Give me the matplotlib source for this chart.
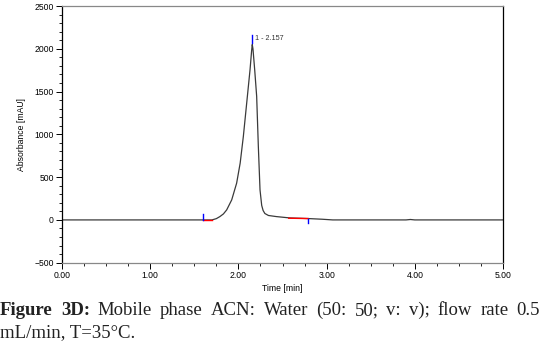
import matplotlib
matplotlib.use("Agg")
import matplotlib.pyplot as plt
from matplotlib.ticker import MultipleLocator, FormatStrFormatter

# trace (time in min, absorbance in mAU)
time = [0.00, 1.00, 1.595, 1.70, 1.75, 1.79, 1.83, 1.867, 1.924, 1.98, 2.02,
        2.056, 2.094, 2.132, 2.150, 2.157, 2.165, 2.185, 2.207, 2.226, 2.245,
        2.264, 2.28, 2.30, 2.34, 2.43, 2.585, 2.79, 2.95, 3.07, 3.50, 3.90,
        3.95, 4.00, 4.50, 5.00]
absorb = [0, 0, 0, 0, 15, 39, 70, 117, 234, 430, 664,
          976, 1366, 1757, 1980, 2050, 2000, 1750, 1444, 858, 351,
          170, 110, 75, 52, 39, 23, 16, 8, 0, 0, 0,
          5, 0, 0, 0]

peak_rt = 2.157
peak_h = 2050
start_mark = (1.595, 1.70)
end_mark = (2.57, 2.79)
end_level = 20

caption1 = ["Figure", "3D:", "Mobile", "phase", "ACN:", "Water", "(50:", "50;",
            "v:", "v);", "flow", "rate", "0.5"]
caption2 = "mL/min, T=35\u00b0C."

fig = plt.figure(figsize=(5.41, 3.62), dpi=100)
ax = fig.add_axes([0.1146, 0.2743, 0.8152, 0.7091])

ax.plot(time, absorb, color="#3a3a3a", lw=0.9)

# integration marks
ax.plot([start_mark[0], start_mark[1]], [0, 0], color="red", lw=1.0)
ax.plot([start_mark[0], start_mark[0]], [0, 75], color="blue", lw=1.0)
ax.plot([end_mark[0], end_mark[1]], [end_level, end_level - 4], color="red", lw=1.0)
ax.plot([end_mark[1], end_mark[1]], [16, -40], color="blue", lw=1.0)
ax.plot([peak_rt, peak_rt], [peak_h + 20, peak_h + 110], color="blue", lw=1.0)
ax.text(peak_rt + 0.03, peak_h + 65, "1 - 2.157", fontsize=5.2, va="center",
        family="Liberation Sans", color="#333333")

ax.set_xlim(0, 5)
ax.set_ylim(-500, 2500)
ax.xaxis.set_major_locator(MultipleLocator(1))
ax.xaxis.set_minor_locator(MultipleLocator(0.25))
ax.yaxis.set_major_locator(MultipleLocator(500))
ax.yaxis.set_minor_locator(MultipleLocator(100))
ax.xaxis.set_major_formatter(FormatStrFormatter("%.2f"))
ax.tick_params(which="major", length=4, width=0.7, labelsize=6.2, pad=2)
ax.tick_params(which="minor", length=2, width=0.6)
for lab in ax.get_xticklabels() + ax.get_yticklabels():
    lab.set_family("Liberation Sans")

ax.spines["left"].set_color("black")
ax.spines["right"].set_color("black")
ax.spines["top"].set_color("#888888")
ax.spines["bottom"].set_color("#888888")
for s in ax.spines.values():
    s.set_linewidth(0.9)

ax.set_xlabel("Time [min]", fontsize=6.2, family="Liberation Sans", labelpad=3)
ax.set_ylabel("Absorbance [mAU]", fontsize=6.2, family="Liberation Sans", labelpad=6)

# caption, first line justified across the full width
r = fig.canvas.get_renderer()
W = fig.bbox.width
y1 = 1 - 315 / 362
items = []
for i, w in enumerate(caption1):
    t = fig.text(0, y1, w, fontsize=13.5, family="Liberation Serif",
                 fontweight="bold" if i < 2 else "normal",
                 color="#222222", va="baseline")
    items.append((t, t.get_window_extent(renderer=r).width))
total = sum(wd for _, wd in items)
gap = (W - 1 - total) / (len(items) - 1)
x = 0.0
for t, wd in items:
    t.set_x(x / W)
    x += wd + gap
fig.text(0.0, 1 - 337 / 362, caption2, fontsize=13.5,
         family="Liberation Serif", color="#222222", va="baseline")

fig.savefig("out.png", dpi=100)
